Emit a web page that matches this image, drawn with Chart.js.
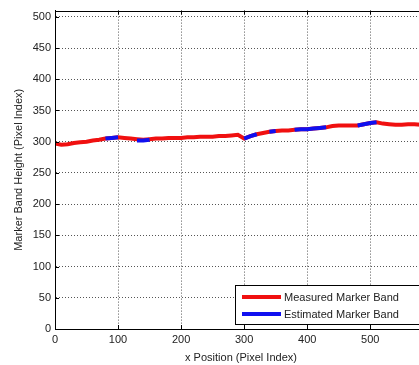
<!DOCTYPE html>
<html>
<head>
<meta charset="utf-8">
<script src="https://cdn.jsdelivr.net/npm/chart.js@4.4.0/dist/chart.umd.min.js"></script>
<style>
  html, body { margin: 0; padding: 0; background: #fff; overflow: hidden; }
  #wrap { width: 419px; height: 365px; overflow: hidden; }
  canvas { display: block; }
</style>
</head>
<body>
<div id="wrap"><canvas id="grafica" width="440" height="365"></canvas></div>
<script>
// Datos
const posicionX = [0, 10, 20, 30, 40, 50, 60, 70, 80, 90, 100, 110, 120, 130, 140, 150, 160, 170, 180, 190,
  200, 210, 220, 230, 240, 250, 260, 270, 280, 290, 300, 310, 320, 330, 340, 350, 360, 370, 380, 390,
  400, 410, 420, 430, 440, 450, 460, 470, 480, 490, 500, 510, 520, 530, 540, 550, 560, 570, 580, 590];
const medida = [297, 295, 296, 298, 299, 300, 302, 303, 305, 306, 307, 306, 305, 304, 303, 304, 305, 305, 306, 306,
  306, 307, 307, 308, 308, 308, 309, 309, 310, 311, 305, 309, 312, 314, 316, 317, 318, 318, 319, 320,
  320, 321, 322, 323, 325, 326, 326, 326, 326, 328, 330, 331, 329, 328, 327, 327, 328, 328, 327, 328];
const estimada = [null, null, null, null, null, null, null, null, 305, 306, 307, null, null, 302, 302, 303, null, null, null, null,
  null, null, null, null, null, null, null, null, null, null, 305, 309, 312, null, 316, 317, null, null, 319, 320,
  320, 321, 322, 323, null, null, null, null, 326, 328, 330, 331, null, null, null, null, null, null, null, null];
const marcasX = [0, 100, 200, 300, 400, 500];
const marcasY = [0, 50, 100, 150, 200, 250, 300, 350, 400, 450, 500];
const etiquetas = ['Measured Marker Band', 'Estimated Marker Band'];
const colores = ['#f01010', '#1010f0'];

const fuente = { family: 'Liberation Sans, Arial, sans-serif', size: 11 };

// Caja de ejes, marcas hacia adentro y leyenda
const cajaPlugin = {
  id: 'caja',
  afterDraw(chart) {
    const ctx = chart.ctx;
    const a = chart.chartArea;
    const sx = chart.scales.x, sy = chart.scales.y;
    ctx.save();
    ctx.strokeStyle = '#000';
    ctx.lineWidth = 1;
    ctx.strokeRect(Math.round(a.left) + 0.5, Math.round(a.top) + 0.5, Math.round(a.right - a.left), Math.round(a.bottom - a.top));
    ctx.beginPath();
    sx.ticks.forEach(t => {
      const px = Math.round(sx.getPixelForValue(t.value)) + 0.5;
      ctx.moveTo(px, a.bottom); ctx.lineTo(px, a.bottom - 4);
      ctx.moveTo(px, a.top); ctx.lineTo(px, a.top + 4);
    });
    sy.ticks.forEach(t => {
      const py = Math.round(sy.getPixelForValue(t.value)) + 0.5;
      ctx.moveTo(a.left, py); ctx.lineTo(a.left + 4, py);
      ctx.moveTo(a.right, py); ctx.lineTo(a.right - 4, py);
    });
    ctx.stroke();

    // leyenda
    const lx = 235, ly = 285, lw = 189, lh = 39;
    ctx.fillStyle = '#fff';
    ctx.fillRect(lx, ly, lw, lh);
    ctx.strokeRect(lx + 0.5, ly + 0.5, lw, lh);
    ctx.font = '11px Liberation Sans, Arial, sans-serif';
    ctx.textBaseline = 'middle';
    chart.data.datasets.forEach((ds, i) => {
      const y = ly + 12 + i * 17;
      ctx.strokeStyle = ds.borderColor;
      ctx.lineWidth = 4;
      ctx.beginPath();
      ctx.moveTo(lx + 7, y); ctx.lineTo(lx + 46, y);
      ctx.stroke();
      ctx.fillStyle = '#222';
      ctx.fillText(ds.label, lx + 49, y + 1);
    });
    ctx.restore();
  }
};

const puntos = (ys) => posicionX.map((x, i) => ({ x: x, y: ys[i] }));

const grafica = new Chart(document.getElementById('grafica'), {
  type: 'line',
  data: {
    datasets: [
      { label: etiquetas[0], data: puntos(medida), borderColor: colores[0], borderWidth: 4, pointRadius: 0, order: 2 },
      { label: etiquetas[1], data: puntos(estimada), borderColor: colores[1], borderWidth: 4, pointRadius: 0, spanGaps: false, order: 1 }
    ]
  },
  options: {
    responsive: false,
    animation: false,
    devicePixelRatio: 1,
    layout: { padding: { top: 10, right: 13, left: 0, bottom: 0 } },
    plugins: { legend: { display: false }, tooltip: { enabled: false } },
    scales: {
      x: {
        type: 'linear', min: 0, max: 590,
        afterBuildTicks: s => { s.ticks = marcasX.map(v => ({ value: v })); },
        afterFit: s => { s.height = 36; },
        ticks: { autoSkip: false, color: '#222', font: fuente, padding: 4, maxRotation: 0 },
        grid: { color: '#555', lineWidth: 1, drawTicks: false },
        border: { display: true, color: '#000', dash: [1, 2] },
        title: { display: true, text: 'x Position (Pixel Index)', color: '#222', font: fuente, padding: { top: 1, bottom: 0 } }
      },
      y: {
        min: 0, max: 510,
        afterBuildTicks: s => { s.ticks = marcasY.map(v => ({ value: v })); },
        afterFit: s => { s.width = 55; },
        ticks: { autoSkip: false, color: '#222', font: fuente, padding: 4 },
        grid: { color: '#555', lineWidth: 1, drawTicks: false },
        border: { display: true, color: '#000', dash: [1, 2] },
        title: { display: true, text: 'Marker Band Height (Pixel Index)', color: '#222', font: fuente, padding: { top: 12, bottom: 0 } }
      }
    }
  },
  plugins: [cajaPlugin]
});
</script>
</body>
</html>
